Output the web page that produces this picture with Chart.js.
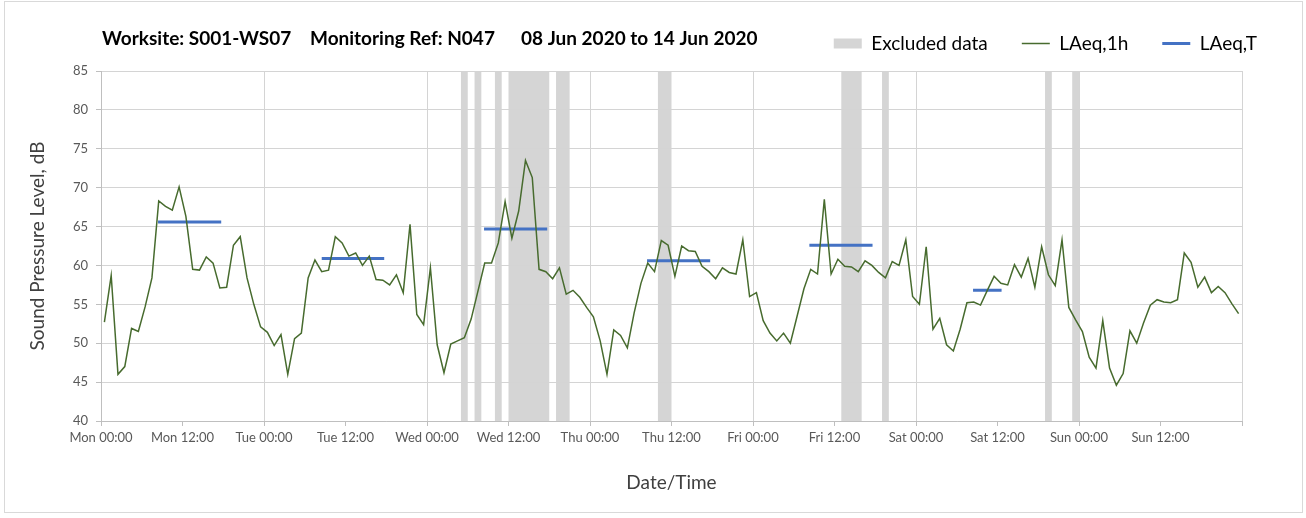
<!DOCTYPE html>
<html>
<head>
<meta charset="utf-8">
<title>Worksite S001-WS07 – N047</title>
<script src="https://cdn.jsdelivr.net/npm/chart.js@4.4.0/dist/chart.umd.min.js"></script>
<style>
  html, body { margin: 0; padding: 0; background: #fff; }
  #frame { position: absolute; left: 4px; top: 1px; width: 1297px; height: 510px; border: 1px solid #d9d9d9; }
  #wrap { position: absolute; left: 0; top: 0; width: 1306px; height: 518px; }
</style>
</head>
<body>
<div id="frame"></div>
<div id="wrap"><canvas id="chart"></canvas></div>
<script>
const titleParts = ['Worksite: S001-WS07', 'Monitoring Ref: N047', '08 Jun 2020 to 14 Jun 2020'];

const tickLabels = [
  'Mon 00:00', 'Mon 12:00', 'Tue 00:00', 'Tue 12:00', 'Wed 00:00', 'Wed 12:00', 'Thu 00:00',
  'Thu 12:00', 'Fri 00:00', 'Fri 12:00', 'Sat 00:00', 'Sat 12:00', 'Sun 00:00', 'Sun 12:00', ''
];

// hourly LAeq, one value per hour from Mon 00:00
const laeq1h = [
  52.7, 58.7, 46.0, 47.0, 51.9, 51.5, 54.7, 58.4, 68.3, 67.6, 67.1, 70.1,
  66.3, 59.5, 59.4, 61.1, 60.3, 57.1, 57.2, 62.6, 63.7, 58.4, 55.0, 52.1,
  51.4, 49.7, 51.1, 46.0, 50.6, 51.3, 58.4, 60.7, 59.2, 59.4, 63.7, 62.9,
  61.2, 61.6, 60.0, 61.2, 58.2, 58.1, 57.5, 58.8, 56.5, 65.3, 53.7, 52.4,
  59.7, 49.8, 46.2, 49.9, 50.3, 50.7, 53.1, 56.7, 60.3, 60.3, 62.9, 68.2,
  63.5, 67.0, 73.5, 71.3, 59.5, 59.2, 58.3, 59.7, 56.3, 56.8, 55.9, 54.6,
  53.4, 50.3, 46.0, 51.7, 51.0, 49.4, 53.9, 57.7, 60.3, 59.2, 63.2, 62.6,
  58.6, 62.5, 61.9, 61.8, 59.9, 59.2, 58.3, 59.7, 59.1, 58.9, 63.3, 56.0,
  56.5, 52.9, 51.3, 50.3, 51.3, 50.0, 53.5, 57.0, 59.5, 58.9, 68.5, 58.9,
  60.8, 59.9, 59.8, 59.2, 60.6, 60.0, 59.1, 58.4, 60.5, 60.0, 63.3, 56.0,
  55.0, 62.4, 51.8, 53.2, 49.8, 49.0, 51.8, 55.2, 55.3, 54.9, 56.8, 58.6,
  57.7, 57.5, 60.1, 58.5, 60.9, 57.2, 62.4, 58.8, 57.4, 63.3, 54.6, 53.0,
  51.5, 48.2, 46.8, 52.9, 46.8, 44.6, 46.1, 51.6, 50.0, 52.6, 54.9, 55.6,
  55.3, 55.2, 55.6, 61.6, 60.4, 57.2, 58.5, 56.5, 57.3, 56.5, 55.1, 53.8
];

// daytime LAeq,T periods (hours from Mon 00:00)
const laeqTStart = [8.4, 32.5, 56.4, 80.4, 104.3, 128.4];
const laeqTEnd = [17.7, 41.7, 65.7, 89.7, 113.6, 132.6];
const laeqT = [65.6, 60.9, 64.7, 60.6, 62.6, 56.8];

// excluded hours
const excludedStart = [53, 55, 58, 60, 67, 82, 109, 115, 139, 143];
const excludedEnd = [54, 56, 59, 66, 69, 84, 112, 116, 140, 144];

const FONT = 'Lato';
const GREEN = '#476b2e';
const BLUE = '#4472c4';
const GREY_BAND = '#d5d5d5';

const hourlyPoints = laeq1h.map((v, i) => ({ x: i + 0.5, y: v }));

const periodPoints = [];
laeqT.forEach((v, k) => {
  periodPoints.push({ x: laeqTStart[k], y: v });
  periodPoints.push({ x: laeqTEnd[k], y: v });
  periodPoints.push({ x: laeqTEnd[k] + 1, y: null });
});

// grey bands behind the grid
const excludedBands = {
  id: 'excludedBands',
  beforeDraw(chart) {
    const { ctx, chartArea, scales } = chart;
    ctx.save();
    ctx.fillStyle = GREY_BAND;
    excludedStart.forEach((s, k) => {
      const x1 = scales.x.getPixelForValue(s);
      const x2 = scales.x.getPixelForValue(excludedEnd[k]);
      ctx.fillRect(x1, chartArea.top, x2 - x1, chartArea.bottom - chartArea.top);
    });
    ctx.restore();
  }
};

const sheetTitle = {
  id: 'sheetTitle',
  afterDraw(chart) {
    const ctx = chart.ctx;
    const xs = [102, 310, 521];
    ctx.save();
    ctx.font = 'bold 19px ' + FONT;
    ctx.fillStyle = '#000';
    ctx.textBaseline = 'middle';
    titleParts.forEach((t, k) => ctx.fillText(t, xs[k], 39));
    ctx.restore();
  }
};

new Chart(document.getElementById('chart'), {
  type: 'line',
  data: {
    datasets: [
      {
        label: 'LAeq,1h',
        data: hourlyPoints,
        borderColor: GREEN,
        borderWidth: 1.5,
        pointRadius: 0,
        tension: 0
      },
      {
        label: 'LAeq,T',
        data: periodPoints,
        borderColor: BLUE,
        borderWidth: 3,
        pointRadius: 0,
        spanGaps: false,
        borderCapStyle: 'butt'
      }
    ]
  },
  options: {
    responsive: true,
    maintainAspectRatio: false,
    animation: false,
    layout: { padding: { top: 0, right: 15, bottom: 0, left: 0 } },
    plugins: {
      tooltip: { enabled: false },
      legend: {
        position: 'top',
        align: 'end',
        labels: {
          usePointStyle: true,
          pointStyleWidth: 28,
          boxHeight: 10,
          padding: 34,
          color: '#404040',
          font: { family: FONT, size: 19 },
          generateLabels: () => [
            { text: 'Excluded data', fillStyle: GREY_BAND, strokeStyle: GREY_BAND, lineWidth: 0, pointStyle: 'rect', hidden: false },
            { text: 'LAeq,1h', fillStyle: GREEN, strokeStyle: GREEN, lineWidth: 1.5, pointStyle: 'line', hidden: false },
            { text: 'LAeq,T', fillStyle: BLUE, strokeStyle: BLUE, lineWidth: 3, pointStyle: 'line', hidden: false }
          ]
        }
      }
    },
    scales: {
      x: {
        type: 'linear',
        min: 0,
        max: 168,
        afterFit(s) { s.height = 97; },
        afterBuildTicks(s) {
          s.ticks = tickLabels.map((_, k) => ({ value: k * 12 }));
        },
        ticks: {
          autoSkip: false,
          maxRotation: 0,
          padding: 4,
          color: '#595959',
          font: { family: FONT, size: 13 },
          callback: (v) => tickLabels[v / 12]
        },
        grid: {
          color: (c) => (c.tick && c.tick.value % 24 === 0 ? '#d4d4d4' : 'rgba(0,0,0,0)'),
          tickColor: '#bfbfbf',
          tickLength: 5,
          lineWidth: 1
        },
        border: { color: '#bfbfbf' },
        title: {
          display: true,
          text: 'Date/Time',
          color: '#404040',
          font: { family: FONT, size: 19 },
          padding: { bottom: 24 }
        }
      },
      xTop: {
        type: 'linear',
        position: 'top',
        display: true,
        afterFit(s) { s.height = 8; },
        grid: { display: false },
        ticks: { display: false },
        border: { display: false }
      },
      y: {
        min: 40,
        max: 85,
        afterFit(s) { s.width = 101; },
        ticks: {
          stepSize: 5,
          padding: 8,
          color: '#595959',
          font: { family: FONT, size: 13 }
        },
        grid: { color: '#d4d4d4', tickColor: '#bfbfbf', tickLength: 5 },
        border: { color: '#bfbfbf' },
        title: {
          display: true,
          text: 'Sound Pressure Level, dB',
          color: '#404040',
          font: { family: FONT, size: 19 },
          padding: { top: 26 }
        }
      },
      yRight: {
        type: 'linear',
        position: 'right',
        display: true,
        afterFit(s) { s.width = 49; },
        grid: { display: false },
        ticks: { display: false },
        border: { display: false }
      }
    }
  },
  plugins: [excludedBands, sheetTitle]
});
</script>
</body>
</html>
